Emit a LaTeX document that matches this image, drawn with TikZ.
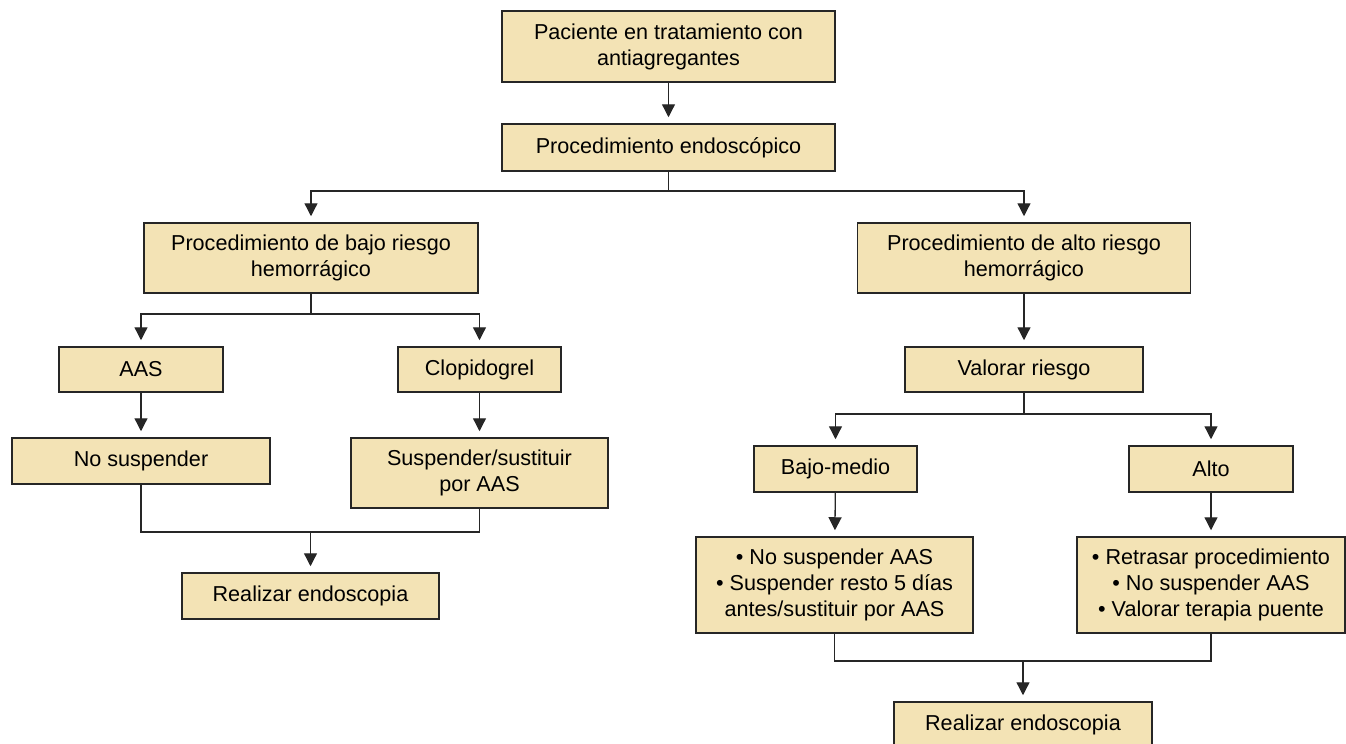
\documentclass[tikz,border=0pt]{standalone}
\usepackage{fontspec}
\setmainfont{Liberation Sans}
\usetikzlibrary{arrows.meta}
\definecolor{cajafill}{RGB}{243,227,181}
\tikzset{
   caja/.style={draw=black!85, fill=cajafill, line width=0.75pt, align=center,
      inner sep=0pt, font=\fontsize{10.8}{13}\selectfont},
   cajasize/.style 2 args={minimum width=#1*0.5pt, minimum height=#2*0.5pt},
   linea/.style={draw=black!85, line width=0.65pt},
   flecha/.style={linea, -{Triangle[width=6.5pt,length=6.5pt]}, shorten >=3pt},
    }
\begin{document}
\begin{tikzpicture}[x=0.5pt, y=-0.5pt]
   \useasboundingbox (0,0) rectangle (1346,744);
   % nodos
   \node[caja, cajasize={333}{71}] (pac) at (668.5,46.5) {Paciente en tratamiento con\\antiagregantes};
   \node[caja, cajasize={333}{47}] (endo) at (668.5,147.5) {Procedimiento endoscópico};
   \node[caja, cajasize={334}{70}] (bajo) at (311,258) {Procedimiento de bajo riesgo\\hemorrágico};
   \node[caja, cajasize={333}{70}] (altor) at (1024,258) {Procedimiento de alto riesgo\\hemorrágico};
   \node[caja, cajasize={164}{45}] (aas) at (141,369.5) {AAS};
   \node[caja, cajasize={163}{45}] (clop) at (479.5,369.5) {Clopidogrel};
   \node[caja, cajasize={258}{46}] (nosusp) at (141,461) {No suspender};
   \node[caja, cajasize={257}{70}] (susp) at (479.5,473) {Suspender/sustituir\\por AAS};
   \node[caja, cajasize={257}{46}] (real1) at (310.5,596) {Realizar endoscopia};
   \node[caja, cajasize={238}{45}] (valorar) at (1024,369.5) {Valorar riesgo};
   \node[caja, cajasize={163}{46}] (bmedio) at (835.5,469) {Bajo-medio};
   \node[caja, cajasize={164}{46}] (alto) at (1211,469) {Alto};
   \node[caja, cajasize={277}{96}] (lista1) at (834.5,585) {• No suspender AAS\\• Suspender resto 5 días\\antes/sustituir por AAS};
   \node[caja, cajasize={268}{96}] (lista2) at (1211,585) {• Retrasar procedimiento\\• No suspender AAS\\• Valorar terapia puente};
   \node[caja, cajasize={258}{46}] (real2) at (1023,725) {Realizar endoscopia};
   % puntos de union
   \coordinate (s1) at (668.5,191);
   \coordinate (s2) at (311,314);
   \coordinate (s3) at (1024,414);
   \coordinate (m1) at (310.5,532);
   \coordinate (m2) at (1023,661);
   % conectores
   \draw[flecha] (pac) -- (endo);
   \draw[linea] (endo) -- (s1);
   \draw[flecha] (s1) -| (bajo);
   \draw[flecha] (s1) -| (altor);
   \draw[linea] (bajo) -- (s2);
   \draw[flecha] (s2) -| (aas);
   \draw[flecha] (s2) -| (clop);
   \draw[flecha] (aas) -- (nosusp);
   \draw[flecha] (clop) -- (susp);
   \draw[linea] (nosusp) |- (m1);
   \draw[linea] (susp) |- (m1);
   \draw[flecha] (m1) -- (real1);
   \draw[flecha] (altor) -- (valorar);
   \draw[linea] (valorar) -- (s3);
   \draw[flecha] (s3) -| (bmedio);
   \draw[flecha] (s3) -| (alto);
   \draw[flecha] (bmedio) -- (lista1);
   \draw[flecha] (alto) -- (lista2);
   \draw[linea] (lista1) |- (m2);
   \draw[linea] (lista2) |- (m2);
   \draw[flecha] (m2) -- (real2);
\end{tikzpicture}
\end{document}
